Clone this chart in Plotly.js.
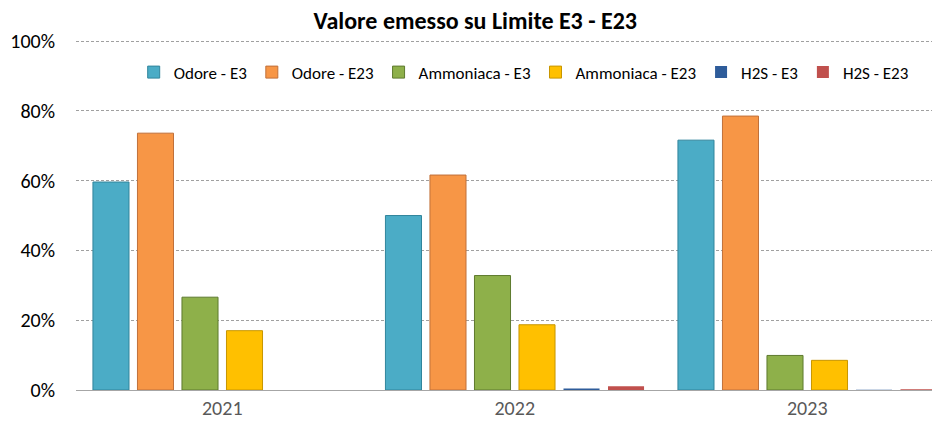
<!DOCTYPE html>
<html>
<head>
<meta charset="utf-8">
<script src="https://cdn.plot.ly/plotly-3.0.1.min.js"></script>
<style>html,body{margin:0;padding:0;background:#fff;}#chart{width:932px;height:425px;}</style>
</head>
<body>
<div id="chart"></div>
<script>
const years = ["2021", "2022", "2023"];
const seriesNames = ["Odore - E3", "Odore - E23", "Ammoniaca - E3", "Ammoniaca - E23", "H2S - E3", "H2S - E23"];
const odoreE3 = [0.596, 0.500, 0.716];
const odoreE23 = [0.736, 0.616, 0.785];
const ammoniacaE3 = [0.266, 0.328, 0.099];
const ammoniacaE23 = [0.170, 0.187, 0.085];
const h2sE3 = [0.0, 0.004, 0.001];
const h2sE23 = [0.0, 0.011, 0.002];
const yTickVals = [0, 0.2, 0.4, 0.6, 0.8, 1.0];
const yTickText = ["0%", "20%", "40%", "60%", "80%", "100%"];

const fills = ["#4BACC6", "#F79646", "#8EB04A", "#FFC000", "#2E5C9A", "#C0504D"];
const edges = ["#31859C", "#C0703A", "#5E7A2E", "#C89600", "#1F3F6A", "#943634"];
const edgeWidths = [1, 1, 1, 1, 0, 0];
const values = [odoreE3, odoreE23, ammoniacaE3, ammoniacaE23, h2sE3, h2sE23];

const traces = values.map((v, i) => ({
  type: "bar",
  name: seriesNames[i],
  x: years,
  y: v,
  marker: { color: fills[i], line: { color: edges[i], width: edgeWidths[i] } },
  hoverinfo: "none"
}));

const font = "Carlito, Calibri, 'Liberation Sans', 'Noto Sans', sans-serif";

const layout = {
  width: 932,
  height: 425,
  margin: { l: 76, r: 0, t: 40, b: 35 },
  paper_bgcolor: "#ffffff",
  plot_bgcolor: "#ffffff",
  font: { family: font, size: 18, color: "#404040" },
  title: {
    text: "<b>Valore emesso su Limite E3 - E23</b>",
    x: 0.51, xanchor: "center",
    y: 0.952, yanchor: "middle", yref: "container",
    font: { family: font, size: 24, color: "#000000" }
  },
  barmode: "group",
  bargap: 0.087,
  bargroupgap: 0.19,
  showlegend: true,
  legend: {
    orientation: "h",
    x: 0.523, xanchor: "center",
    y: 0.907, yanchor: "middle",
    font: { family: font, size: 17, color: "#000000" },
    bgcolor: "rgba(255,255,255,0)",
    itemwidth: 30,
    traceorder: "normal"
  },
  xaxis: {
    type: "category",
    range: [-0.5, 2.4265],
    showgrid: false,
    showline: true,
    linecolor: "#A6A6A6",
    linewidth: 1,
    ticks: "",
    tickfont: { family: font, size: 20, color: "#595959" },
    fixedrange: true
  },
  yaxis: {
    range: [0, 1.003],
    tickvals: yTickVals,
    ticktext: yTickText,
    showgrid: true,
    gridcolor: "#A0A0A0",
    griddash: "3px,2px",
    gridwidth: 1,
    zeroline: false,
    showline: false,
    ticks: "",
    ticklabelstandoff: 20,
    tickfont: { family: font, size: 20, color: "#000000" },
    fixedrange: true
  }
};

Plotly.newPlot("chart", traces, layout, { staticPlot: true, displayModeBar: false });
</script>
</body>
</html>
